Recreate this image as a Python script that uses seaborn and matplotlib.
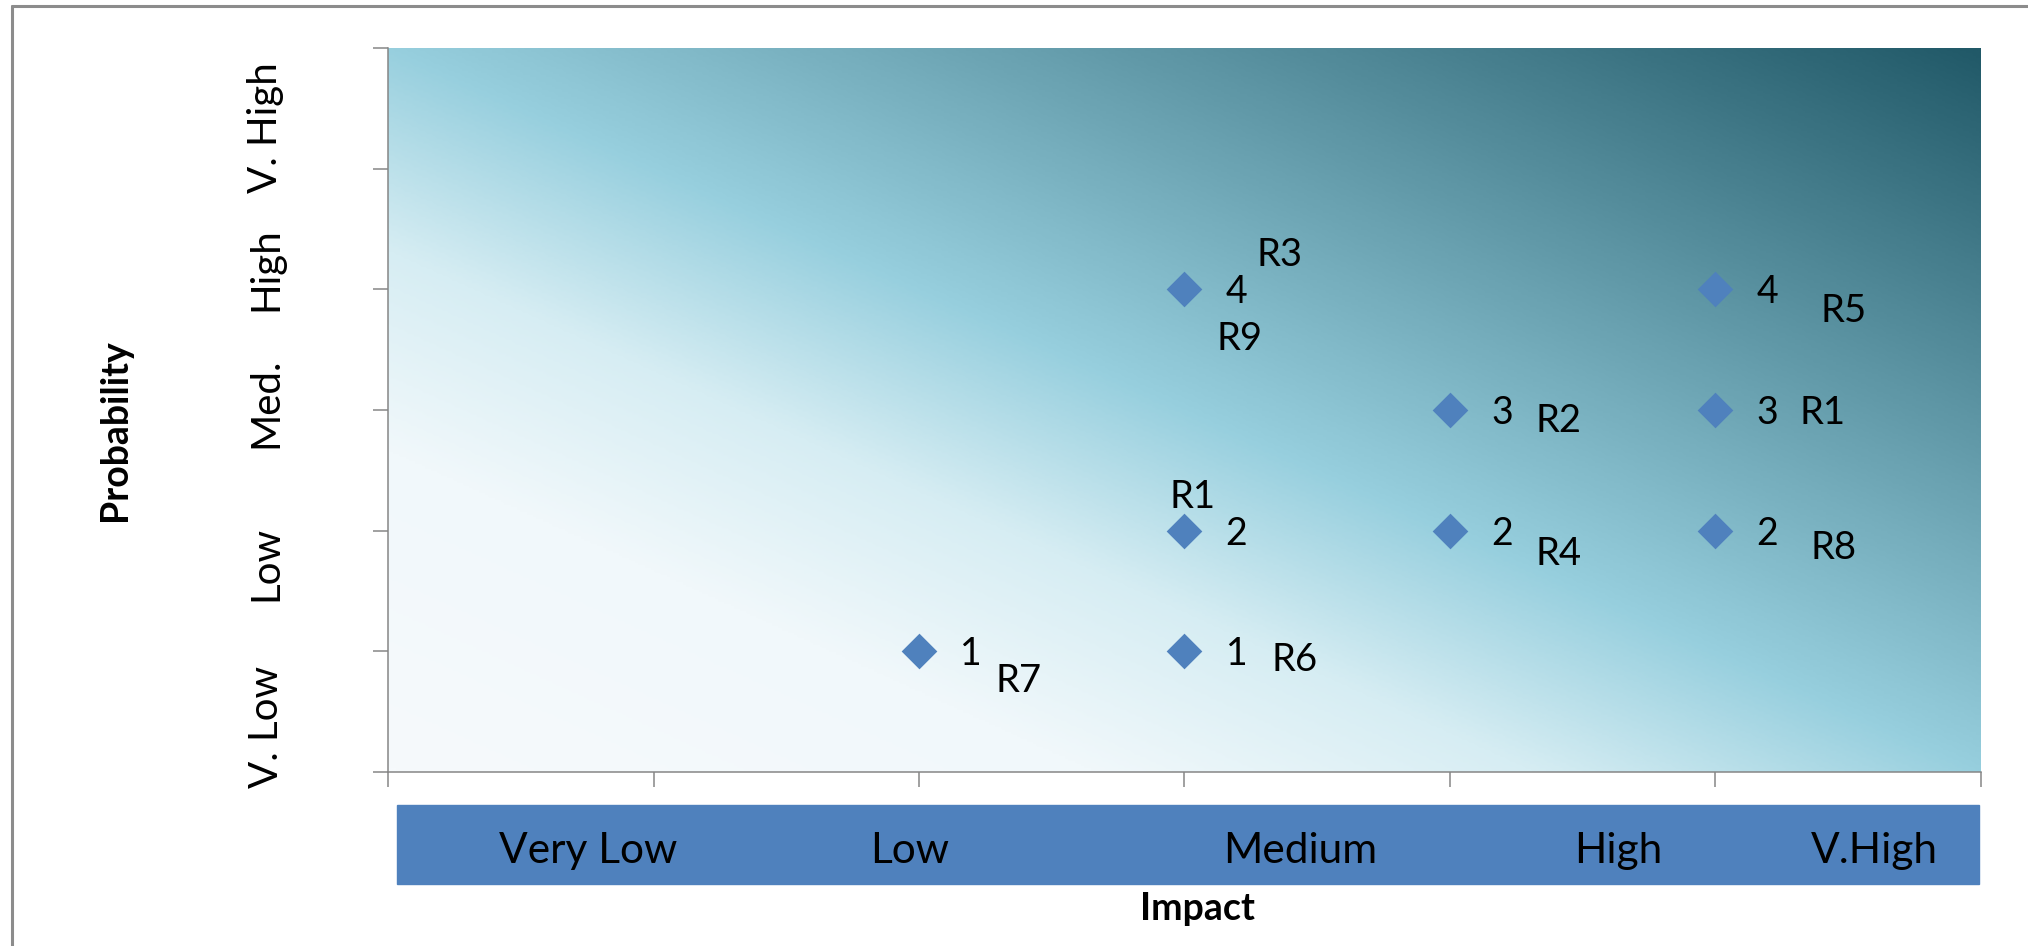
import numpy as np
import pandas as pd
import matplotlib
matplotlib.use('Agg')
import matplotlib.pyplot as plt
import seaborn as sns
from matplotlib.colors import LinearSegmentedColormap
from matplotlib import transforms
from matplotlib.patches import Rectangle
from matplotlib.lines import Line2D

# risk register: impact / probability level of each risk
risk = ['R7', 'R6', 'R1', 'R3', 'R9', 'R2', 'R4', 'R5', 'R1', 'R8']
impact = [2, 3, 3, 3, 3, 4, 4, 5, 5, 5]
prob = [1, 1, 2, 4, 4, 3, 2, 4, 3, 2]

impact_labels = ['Very Low', 'Low', 'Medium', 'High', 'V.High']
prob_labels = ['V. Low', 'Low', 'Med.', 'High', 'V. High']

data = pd.DataFrame({'risk': risk, 'impact': impact, 'prob': prob})
points = data.drop_duplicates(['impact', 'prob'])

sns.set_theme(style='white')
plt.rcParams['font.family'] = ['Lato', 'DejaVu Sans']

W, H = 2028, 946
fig = plt.figure(figsize=(W / 100, H / 100), dpi=100)
ax = fig.add_axes([388 / W, 174 / H, 1593 / W, 724 / H])

# diagonal background gradient (pale bottom-left -> dark teal top-right)
cmap = LinearSegmentedColormap.from_list('bg', [
    (0.0, '#F6FAFC'), (0.22, '#F1F8FB'), (0.36, '#D6EDF3'),
    (0.5, '#97CFDE'), (1.0, '#215968')])
u, v = np.meshgrid(np.linspace(0, 1, 500), np.linspace(0, 1, 300))
ax.imshow((u + v) / 2, cmap=cmap, vmin=0, vmax=1, origin='lower',
          extent=(0, 6, 0, 6), aspect='auto', zorder=0, interpolation='bilinear')

sns.scatterplot(data=points, x='impact', y='prob', marker='D', s=330,
                color='#4F81BD', linewidth=0, ax=ax, zorder=3, legend=False)

ax.set_xlim(0, 6)
ax.set_ylim(0, 6)
ax.set_xticks(range(7))
ax.set_yticks(range(7))
ax.set_xlabel('')
ax.set_ylabel('')
ax.tick_params(length=10.8, width=1.1, color='#868686', direction='out',
               left=True, bottom=True, labelleft=False, labelbottom=False)
for s in ['top', 'right']:
    ax.spines[s].set_visible(False)
for s in ['left', 'bottom']:
    ax.spines[s].set_color('#868686')
    ax.spines[s].set_linewidth(1.1)

# value labels next to each marker
for _, r in points.iterrows():
    ax.annotate(str(r['prob']), (r['impact'], r['prob']), xytext=(52, -3),
                textcoords='offset pixels', ha='center', va='center',
                fontsize=27, color='black', zorder=4)

# risk id labels
offsets = [(100, -30), (110, -9), (8, 34), (95, 34), (55, -50),
           (109, -11), (109, -23), (128, -22), (107, -3), (118, -17)]
for (_, r), off in zip(data.iterrows(), offsets):
    ax.annotate(r['risk'], (r['impact'], r['prob']), xytext=off,
                textcoords='offset pixels', ha='center', va='center',
                fontsize=27.5, color='black', zorder=4)

# probability level labels (rotated, left of the axis)
ytr = transforms.blended_transform_factory(ax.transAxes, ax.transData)
for lab, yy in zip(prob_labels, [0.37, 1.73, 3.06, 4.17, 5.34]):
    ax.text((266 - 388) / 1593, yy, lab, transform=ytr, rotation=90,
            ha='center', va='center', fontsize=29, color='black')

# impact band under the axis
fig.patches.append(Rectangle((397 / W, 62 / H), 1582 / W, 79 / H,
                             transform=fig.transFigure, color='#4F81BD', zorder=-1))
xtr = transforms.blended_transform_factory(ax.transData, fig.transFigure)
for lab, xx in zip(impact_labels, [0.755, 1.963, 3.434, 4.632, 5.60]):
    fig.text(0, (H - 863) / H, lab, ha='center', va='baseline',
             fontsize=30.5, color='black', zorder=5,
             transform=xtr).set_x(xx)

fig.text(1197 / W, (H - 920) / H, 'Impact', ha='center', va='baseline',
         fontsize=27, fontweight='bold', color='black')
fig.text(115 / W, (H - 430) / H, 'Probability', rotation=90, ha='center',
         va='center', fontsize=27, fontweight='bold', color='black')

# outer chart border (left and top only visible)
fig.add_artist(Line2D([12 / W, 12 / W], [0, (H - 6) / H], transform=fig.transFigure,
                      color='#8C8C8C', linewidth=2.2))
fig.add_artist(Line2D([12 / W, 1], [(H - 6) / H, (H - 6) / H], transform=fig.transFigure,
                      color='#8C8C8C', linewidth=2.2))

fig.savefig('out.png', dpi=100)
